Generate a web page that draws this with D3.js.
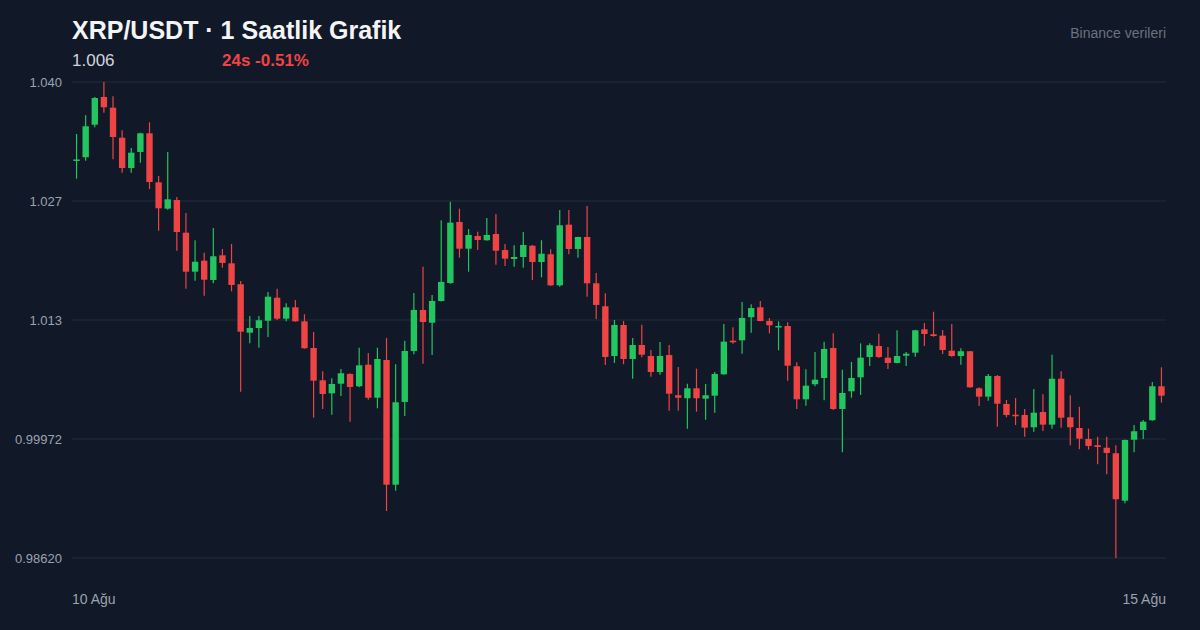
<!DOCTYPE html>
<html>
<head>
<meta charset="utf-8">
<script src="https://cdn.jsdelivr.net/npm/d3@7"></script>
<style>
  html, body { margin: 0; padding: 0; background: #111827; }
  svg { display: block; font-family: "Liberation Sans", Arial, Helvetica, sans-serif; }
</style>
</head>
<body>
<svg id="chart" width="1200" height="630"></svg>
<script>
'use strict'

// 1h candles, 10 Aug -> 15 Aug
const opens = [
  1.03136,1.03173,1.03543,1.03858,1.03736,1.03395,1.03051,1.03233,1.03445,1.02888,
  1.02589,1.02687,1.02316,1.01873,1.01998,1.01779,1.02059,1.01968,1.01730,1.01180,
  1.01233,1.01316,1.01577,1.01339,1.01468,1.01309,1.01006,1.00639,1.00491,1.00600,
  1.00711,1.00571,1.00816,1.00441,1.00870,0.99453,1.00393,1.00972,1.01438,1.01293,
  1.01540,1.01744,1.02438,1.02134,1.02278,1.02230,1.02301,1.02119,1.02017,1.02040,
  1.02168,1.01983,1.02071,1.01718,1.02407,1.02131,1.02267,1.01741,1.01480,1.00915,
  1.01267,1.00881,1.01040,1.00915,1.00733,1.00926,1.00469,1.00435,1.00548,1.00430,
  1.00464,1.00707,1.01089,1.01093,1.01355,1.01468,1.01313,1.01241,1.01256,1.00798,
  1.00423,1.00594,1.00665,1.01006,1.00313,1.00514,1.00673,1.00904,1.01029,1.00896,
  1.00836,1.00918,1.00953,1.01218,1.01162,1.01146,1.00975,1.00915,1.00969,1.00548,
  1.00453,1.00688,1.00370,1.00248,1.00245,1.00105,1.00279,1.00135,1.00657,1.00219,
  1.00097,0.99972,0.99901,0.99873,0.99810,0.99271,0.99964,1.00074,1.00185,1.00571
]
const highs = [
  1.03437,1.03650,1.03858,1.04028,1.03866,1.03479,1.03278,1.03450,1.03570,1.02960,
  1.03233,1.02722,1.02540,1.02230,1.02089,1.02369,1.02131,1.02188,1.01767,1.01370,
  1.01370,1.01642,1.01680,1.01514,1.01551,1.01389,1.01188,1.00741,1.00662,1.00767,
  1.00719,1.01009,1.00949,1.01009,1.01120,1.00821,1.01089,1.01631,1.01930,1.01608,
  1.02457,1.02668,1.02589,1.02358,1.02327,1.02483,1.02528,1.02188,1.02173,1.02324,
  1.02176,1.02230,1.02127,1.02574,1.02574,1.02271,1.02619,1.01858,1.01627,1.01324,
  1.01313,1.01120,1.01271,1.00983,1.01074,1.01040,1.00790,1.00600,1.00771,1.00597,
  1.00733,1.01279,1.01241,1.01529,1.01502,1.01540,1.01347,1.01309,1.01298,1.00844,
  1.00764,1.00961,1.01078,1.01173,1.00759,1.00847,1.01059,1.01059,1.01168,1.01017,
  1.01207,1.00961,1.01214,1.01290,1.01418,1.01210,1.01279,1.01003,1.00972,1.00560,
  1.00711,1.00699,1.00415,1.00438,1.00313,1.00540,1.00480,1.00930,1.00741,1.00469,
  1.00339,1.00089,0.99998,0.99998,0.99901,0.99965,1.00131,1.00188,1.00620,1.00787
]
const lows = [
  1.02929,1.03134,1.03513,1.03679,1.03150,1.02998,1.02998,1.03111,1.02812,1.02339,
  1.02577,1.02111,1.01680,1.01771,1.01600,1.01741,1.01918,1.01650,1.00510,1.01059,
  1.01009,1.01131,1.01324,1.01309,1.01305,1.00998,1.00214,1.00313,1.00248,1.00461,
  1.00169,1.00560,1.00419,1.00321,0.99154,0.99385,1.00233,1.00934,1.00828,1.00926,
  1.01535,1.01737,1.02032,1.01873,1.02119,1.02225,1.01952,1.01938,1.01930,1.01918,
  1.01779,1.01809,1.01710,1.01702,1.02071,1.02032,1.01589,1.01335,1.00813,1.00836,
  1.00821,1.00657,1.00900,1.00680,1.00703,1.00294,1.00294,1.00089,1.00282,1.00191,
  1.00271,1.00703,1.01055,1.00941,1.01180,1.01309,1.01173,1.00980,1.00635,1.00313,
  1.00350,1.00571,1.00412,1.00302,0.99821,1.00441,1.00472,1.00801,1.00892,1.00767,
  1.00832,1.00801,1.00907,1.01029,1.01134,1.00938,1.00907,1.00816,1.00555,1.00347,
  1.00407,1.00112,1.00219,1.00131,0.99998,1.00055,1.00063,1.00089,1.00101,0.99901,
  0.99855,0.99851,0.99685,0.99571,0.98620,0.99242,0.99821,0.99972,1.00180,1.00385
]
const closes = [
  1.03148,1.03525,1.03846,1.03741,1.03403,1.03051,1.03225,1.03445,1.02892,1.02593,
  1.02695,1.02324,1.01873,1.01986,1.01782,1.02048,1.01972,1.01722,1.01191,1.01233,
  1.01321,1.01589,1.01339,1.01468,1.01309,1.01003,1.00635,1.00483,1.00597,1.00719,
  1.00563,1.00809,1.00441,1.00881,0.99453,1.00389,1.00972,1.01438,1.01301,1.01540,
  1.01756,1.02430,1.02134,1.02290,1.02233,1.02290,1.02111,1.02021,1.02040,1.02176,
  1.01983,1.02077,1.01718,1.02400,1.02131,1.02267,1.01741,1.01495,1.00904,1.01267,
  1.00881,1.01040,1.00930,1.00733,1.00915,1.00487,1.00441,1.00548,1.00435,1.00469,
  1.00711,1.01078,1.01071,1.01347,1.01460,1.01313,1.01264,1.01256,1.00805,1.00423,
  1.00578,1.00646,1.00995,1.00313,1.00495,1.00665,1.00896,1.01037,1.00904,1.00836,
  1.00915,1.00941,1.01207,1.01165,1.01142,1.00983,1.00915,1.00969,1.00560,1.00453,
  1.00688,1.00373,1.00245,1.00230,1.00101,1.00271,1.00135,1.00657,1.00214,1.00105,
  0.99976,0.99893,0.99881,0.99813,0.99287,0.99961,1.00060,1.00169,1.00571,1.00464
]
const xLabels = ['10 Ağu', '15 Ağu']
const titleText = 'XRP/USDT · 1 Saatlik Grafik'
const priceText = '1.006'
const changeText = '24s -0.51%'
const sourceText = 'Binance verileri'

const cfg = {
  w: 1200, h: 630,
  left: 72, right: 1166, top: 82, bottom: 558,
  up: '#22c55e', down: '#ef4444',
  grid: '#222c3a', tick: '#9ca3af'
}

const candles = opens.map((o, i) => ({ i: i, o: o, h: highs[i], l: lows[i], c: closes[i] }))

const svg = d3.select('#chart')
svg.append('rect').attr('width', cfg.w).attr('height', cfg.h).attr('fill', '#111827')

const x = d3.scaleBand()
  .domain(candles.map(d => d.i))
  .range([cfg.left, cfg.right])
  .paddingInner(0.3)
  .paddingOuter(0.15)

const yMin = d3.min(lows), yMax = d3.max(highs)
const y = d3.scaleLinear().domain([yMin, yMax]).range([cfg.bottom, cfg.top])

// 5 evenly spaced ticks from min low to max high
const ticks = d3.range(5).map(k => yMin + k * (yMax - yMin) / 4)
const fmt = v => v >= 1 ? v.toFixed(3) : v.toFixed(5)

const grid = svg.append('g').attr('class', 'grid')
grid.selectAll('line').data(ticks).enter().append('line')
  .attr('x1', cfg.left).attr('x2', cfg.right)
  .attr('y1', d => y(d)).attr('y2', d => y(d))
  .attr('stroke', cfg.grid).attr('stroke-width', 1)

grid.selectAll('text').data(ticks).enter().append('text')
  .attr('x', 62).attr('y', d => y(d))
  .attr('dy', '0.35em')
  .attr('text-anchor', 'end')
  .attr('font-size', 13)
  .attr('fill', cfg.tick)
  .text(fmt)

// candles
const g = svg.append('g').attr('class', 'candles')
const cx = d => x(d.i) + x.bandwidth() / 2
const col = d => d.c >= d.o ? cfg.up : cfg.down

g.selectAll('.wick').data(candles).enter().append('line')
  .attr('class', 'wick')
  .attr('x1', cx).attr('x2', cx)
  .attr('y1', d => y(d.h)).attr('y2', d => y(d.l))
  .attr('stroke', col).attr('stroke-width', 1.2)

g.selectAll('.body').data(candles).enter().append('rect')
  .attr('class', 'body')
  .attr('x', d => x(d.i))
  .attr('width', x.bandwidth())
  .attr('y', d => y(Math.max(d.o, d.c)))
  .attr('height', d => Math.max(1.5, Math.abs(y(d.o) - y(d.c))))
  .attr('fill', col)

// x labels: first and last day
svg.selectAll('.xlabel').data(xLabels).enter().append('text')
  .attr('class', 'xlabel')
  .attr('x', (d, i) => i === 0 ? cfg.left : cfg.right)
  .attr('y', 604)
  .attr('text-anchor', (d, i) => i === 0 ? 'start' : 'end')
  .attr('font-size', 14)
  .attr('fill', cfg.tick)
  .text(d => d)

// header
svg.append('text').attr('x', 72).attr('y', 39)
  .attr('font-size', 25).attr('font-weight', 'bold').attr('fill', '#f3f4f6')
  .text(titleText)
svg.append('text').attr('x', 72).attr('y', 66)
  .attr('font-size', 17).attr('fill', '#d1d5db')
  .text(priceText)
svg.append('text').attr('x', 222).attr('y', 66)
  .attr('font-size', 17).attr('font-weight', 'bold').attr('fill', cfg.down)
  .text(changeText)
svg.append('text').attr('x', 1166).attr('y', 38)
  .attr('text-anchor', 'end')
  .attr('font-size', 14).attr('fill', '#6b7280')
  .text(sourceText)
</script>
</body>
</html>
